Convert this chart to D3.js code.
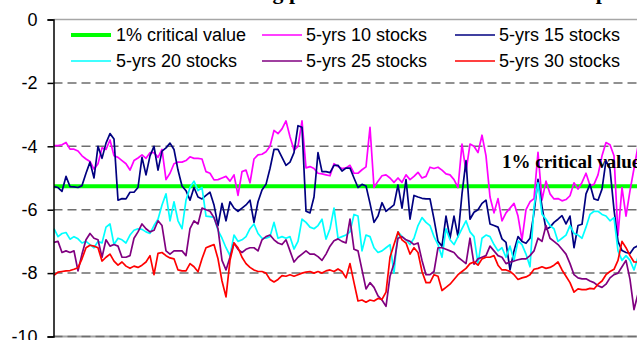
<!DOCTYPE html>
<html>
<head>
<meta charset="utf-8">
<script src="https://cdn.jsdelivr.net/npm/d3@7"></script>
<style>
  body { margin: 0; background: #fff; }
  svg { display: block; }
</style>
</head>
<body>
<svg id="chart" width="637" height="340"></svg>
<script>
// Rolling test statistics for 5-year samples, by number of stocks in the portfolio
const tickValues = [0, -2, -4, -6, -8, -10];
const criticalValue = -5.26;

const seriesNames = ["5-yrs 10 stocks", "5-yrs 15 stocks", "5-yrs 20 stocks", "5-yrs 25 stocks", "5-yrs 30 stocks"];
const seriesColors = ["#ff00ff", "#000080", "#00ffff", "#800080", "#ff0000"];

const tenStocks = [
  -3.98,-3.98,-3.95,-3.88,-4.09,-4.09,-4.15,-4.3,-4.4,-4.48,-4.72,-4.55,-4.05,-4.1,-3.8,-4.3,-4.35,-4.45,-4.55,-4.75,
  -4.45,-4.37,-4.27,-4.38,-4.2,-4.2,-4.35,-4.1,-5.05,-4.85,-4.55,-4.5,-4.5,-4.45,-4.33,-4.38,-4.38,
  -4.4,-4.8,-4.85,-5.06,-5.05,-5.0,-4.95,-5.1,-4.9,-5.55,-4.8,-4.75,-5.15,-4.4,-4.27,-4.25,-4.17,-4.0,-3.5,-3.6,
  -3.45,-3.2,-3.7,-4.12,-4.0,-3.2,-4.68,-4.64,-4.7,-4.85,-4.87,-4.9,-4.93,-4.55,-4.64,-4.7,-4.68,-4.6,-4.85,-4.85,
  -4.74,-4.65,-3.4,
  -5.3,-5.1,-4.93,-4.9,-5.0,-5.14,-5.0,-5.14,-4.9,-5.05,-4.95,-4.82,-5.0,-4.95,-4.66,-4.7,-4.66,-4.75,-4.87,-4.9,
  -5.05,-5.3,-3.93,-4.8,-3.93,-4.0,-4.2,-3.65,-4.3,-5.6,-6.1,-5.65,-6.35,-6.1,-5.95,-5.8,-6.2,-6.95,-6.0,-5.75,
  -5.65,-4.19,-5.7,-5.1,-5.5,-5.66,-5.65,-5.72,-5.68,-5.56,-5.15,-5.35,-5.14,-4.85,-5.24,-5.2,-4.9,-4.3,-3.88,-3.95,
  -4.3,-6.8,-5.3,-6.2,-5.4,-4.7,-4.0
];

const fifteenStocks = [
  -5.27,-5.3,-5.42,-4.95,-5.27,-5.28,-5.3,-5.24,-4.85,-4.5,-5.0,-4.0,-4.38,-3.9,-3.6,-3.77,-5.7,-5.65,-5.66,-5.45,
  -5.45,-5.3,-4.35,-4.9,-4.3,-4.0,-4.75,-4.15,-4.05,-3.9,-4.1,-4.75,-5.25,-5.4,-5.7,-5.3,-5.6,
  -5.66,-5.55,-5.45,-5.85,-6.5,-5.8,-6.35,-5.75,-5.95,-6.05,-5.95,-5.85,-5.7,-6.4,-5.75,-5.38,-5.2,-4.7,-4.1,-4.1,
  -4.35,-4.6,-4.5,-4.2,-3.35,-3.4,-6.05,-6.1,-5.6,-4.2,-4.8,-4.8,-4.83,-4.6,-4.6,-4.78,-4.69,-4.69,-5.0,-5.3,
  -5.2,-5.25,-5.8,
  -6.4,-6.2,-5.78,-6.05,-5.95,-5.85,-5.22,-5.95,-5.05,-6.3,-5.55,-5.6,-5.64,-5.66,-5.66,-6.3,-7.0,-7.15,-6.2,-6.9,
  -6.2,-6.85,-5.5,-4.45,-6.3,-6.08,-6.0,-5.8,-5.7,-6.45,-6.5,-6.55,-6.92,-7.03,-7.9,-7.3,-6.85,-7.0,-7.06,-6.9,
  -6.1,-5.04,-5.9,-6.62,-6.55,-6.4,-6.3,-6.19,-6.45,-6.2,-7.2,-6.5,-6.46,-5.5,-5.2,-5.66,-5.7,-5.35,-4.45,-4.72,
  -6.0,-7.0,-7.29,-7.35,-7.38,-7.2,-7.14
];

const twentyStocks = [
  -6.6,-6.85,-6.75,-6.72,-6.93,-6.85,-6.92,-7.05,-7.0,-7.1,-7.2,-7.0,-7.05,-6.55,-6.45,-7.1,-6.9,-6.95,-7.05,-6.8,
  -6.65,-6.6,-6.62,-6.7,-6.75,-6.5,-6.3,-5.85,-5.5,-6.35,-5.75,-6.35,-6.6,-5.7,-5.3,-5.1,-5.4,
  -5.3,-6.2,-6.22,-6.24,-6.65,-6.9,-7.2,-7.45,-6.8,-7.0,-6.95,-6.85,-6.6,-6.45,-6.75,-6.9,-6.9,-6.85,-6.4,-6.9,
  -6.85,-6.9,-6.85,-7.24,-7.0,-6.3,-6.4,-6.55,-6.6,-6.5,-6.3,-6.93,-6.6,-5.95,-6.9,-6.85,-6.8,-6.7,-6.15,-6.2,
  -7.3,-6.8,-6.85,
  -7.2,-7.35,-7.3,-7.2,-7.1,-8.0,-6.7,-6.85,-6.95,-7.1,-6.9,-6.5,-6.25,-6.4,-6.5,-6.85,-7.1,-7.5,-6.6,-6.95,
  -7.1,-6.85,-6.6,-6.35,-6.7,-6.85,-7.7,-6.9,-6.8,-6.85,-7.1,-7.3,-7.2,-7.5,-7.15,-7.6,-6.98,-7.1,-7.4,-7.8,
  -5.9,-5.15,-6.14,-6.3,-6.5,-6.6,-7.0,-6.9,-6.8,-6.5,-6.75,-6.8,-6.9,-6.55,-6.15,-6.05,-6.05,-6.15,-6.2,-6.35,
  -6.25,-7.3,-7.6,-7.45,-7.6,-7.9,-7.5
];

const twentyFiveStocks = [
  -7.03,-7.0,-7.35,-7.3,-7.35,-7.3,-7.93,-7.4,-6.95,-6.75,-6.9,-6.95,-7.5,-6.95,-7.15,-7.1,-7.15,-7.5,-7.5,-7.45,
  -6.9,-6.7,-6.45,-6.6,-6.7,-6.65,-6.35,-6.5,-7.3,-7.4,-7.3,-7.3,-7.3,-7.45,-6.6,-6.35,-6.45,
  -5.95,-6.0,-6.05,-6.25,-6.6,-7.6,-7.9,-7.5,-7.05,-7.25,-7.35,-7.25,-7.2,-7.2,-7.3,-6.95,-6.85,-6.8,-6.95,-7.05,
  -7.1,-6.95,-7.3,-7.65,-7.5,-7.4,-7.3,-7.4,-7.4,-7.48,-7.6,-7.4,-7.15,-6.98,-6.92,-7.0,-7.05,-6.3,-7.25,-7.3,
  -7.9,-8.5,-8.3,
  -8.45,-8.72,-8.85,-9.05,-8.1,-7.7,-6.9,-6.85,-6.95,-7.0,-7.1,-7.05,-7.6,-8.05,-8.05,-7.95,-7.2,-7.2,-7.25,-7.3,
  -7.35,-7.5,-7.6,-7.7,-6.9,-7.72,-7.55,-7.5,-7.45,-7.15,-7.3,-7.45,-7.5,-7.7,-7.65,-7.62,-7.58,-7.55,-7.55,-7.45,
  -7.3,-6.9,-7.0,-6.5,-6.9,-7.0,-7.1,-7.25,-7.4,-7.7,-8.05,-8.15,-8.18,-8.18,-8.25,-8.3,-8.4,-8.45,-8.35,-8.15,
  -8.05,-8.0,-7.8,-7.6,-8.2,-9.15,-8.65
];

const thirtyStocks = [
  -8.07,-7.97,-7.95,-7.93,-7.92,-7.88,-7.83,-7.55,-7.2,-7.12,-7.15,-7.2,-7.62,-7.5,-7.4,-7.62,-7.75,-7.65,-7.78,-7.85,
  -7.78,-7.82,-7.75,-7.65,-7.45,-8.05,-7.38,-7.35,-7.45,-7.52,-7.55,-7.9,-7.93,-7.93,-7.7,-7.8,-7.96,
  -7.55,-7.2,-7.15,-7.1,-7.55,-8.25,-8.75,-7.6,-7.05,-7.2,-7.5,-7.7,-7.82,-7.9,-7.95,-7.95,-8.0,-8.2,-8.28,-8.2,
  -8.08,-8.1,-8.05,-8.1,-8.05,-8.0,-7.97,-7.95,-8.0,-7.95,-8.0,-7.93,-7.9,-7.95,-7.87,-7.95,-8.15,-7.7,-8.3,-8.88,
  -8.85,-8.92,-8.85,
  -8.88,-8.8,-8.83,-8.6,-7.5,-7.1,-6.7,-6.95,-7.05,-7.4,-7.2,-7.35,-7.95,-8.3,-8.3,-8.05,-8.1,-8.55,-8.45,-8.35,
  -8.2,-8.05,-7.95,-7.85,-7.7,-7.65,-7.75,-7.55,-7.5,-7.5,-7.45,-7.75,-7.9,-7.9,-7.95,-8.05,-8.2,-8.15,-8.12,-8.05,
  -7.88,-7.85,-7.8,-7.85,-7.82,-7.75,-7.65,-7.9,-8.1,-8.3,-8.6,-8.5,-8.52,-8.52,-8.48,-8.5,-8.35,-8.25,-8.05,-7.95,
  -7.88,-7.6,-7.0,-7.2,-7.45,-7.65,-7.65
];

const seriesValues = [tenStocks, fifteenStocks, twentyStocks, twentyFiveStocks, thirtyStocks];

const svg = d3.select("#chart");
const W = 637, H = 340;
const plot = { left: 53.5, top: 19.5, bottom: 336.5 };
const sansFont = "'Liberation Sans', Arial, sans-serif";
const serifFont = "'Liberation Serif', 'Times New Roman', serif";

const n = tenStocks.length;
const x = d3.scaleLinear().domain([0, n - 1]).range([54, 54 + 4 * (n - 1)]);
const y = d3.scaleLinear().domain([-10, 0]).range([plot.bottom, plot.top]);

// Title: sits above the top edge, only its descenders reach into view
const titleText = "Test statistics of trading pairs across the whole of the sample";
const title = svg.append("text")
  .attr("x", 0).attr("y", 0)
  .attr("font-family", serifFont).attr("font-weight", "bold")
  .attr("font-size", 22).attr("fill", "#000")
  .text(titleText);
{
  const node = title.node();
  const iA = titleText.indexOf("pairs");
  const iB = titleText.lastIndexOf("p");
  const span = node.getStartPositionOfChar(iB).x - node.getStartPositionOfChar(iA).x;
  title.attr("font-size", 22 * 307 / span);
  const pA = node.getStartPositionOfChar(iA).x;
  title.attr("x", 289 - pA).attr("y", -1);
}

// Plot frame: grey top and bottom edges
svg.append("line")
  .attr("x1", plot.left).attr("x2", W).attr("y1", plot.top).attr("y2", plot.top)
  .attr("stroke", "#a6a6a6").attr("stroke-width", 1.5);
svg.append("line")
  .attr("x1", plot.left).attr("x2", W).attr("y1", plot.bottom).attr("y2", plot.bottom)
  .attr("stroke", "#a6a6a6").attr("stroke-width", 2);

// Dashed gridlines
svg.append("g")
  .selectAll("line")
  .data(tickValues.filter(v => v !== 0))
  .join("line")
  .attr("x1", plot.left).attr("x2", W)
  .attr("y1", d => y(d)).attr("y2", d => y(d))
  .attr("stroke", "#6e6e6e").attr("stroke-width", 1.5)
  .attr("stroke-dasharray", "9,5");

// 1% critical value
svg.append("line")
  .attr("x1", x(0)).attr("x2", x(n - 1))
  .attr("y1", y(criticalValue)).attr("y2", y(criticalValue))
  .attr("stroke", "#00ff00").attr("stroke-width", 4);

// Series lines
const line = d3.line().x((d, i) => x(i)).y(d => y(d));
svg.append("g")
  .selectAll("path")
  .data(seriesValues)
  .join("path")
  .attr("d", d => line(d))
  .attr("fill", "none")
  .attr("stroke", (d, i) => seriesColors[i])
  .attr("stroke-width", 1.7)
  .attr("stroke-linejoin", "round");

// Y axis
const yAxis = d3.axisLeft(y)
  .tickValues(tickValues)
  .tickSize(6)
  .tickPadding(10)
  .tickFormat(d => String(d));
const gy = svg.append("g")
  .attr("transform", `translate(${plot.left},0)`)
  .call(yAxis);
gy.select(".domain").attr("stroke", "#000").attr("stroke-width", 1.5);
gy.selectAll(".tick line").attr("stroke", "#000").attr("stroke-width", 1.5);
gy.selectAll(".tick text")
  .attr("font-family", sansFont).attr("font-size", 18).attr("fill", "#000");

// Legend
const legendItems = [
  { name: "1% critical value", color: "#00ff00", width: 4 },
  ...seriesNames.map((s, i) => ({ name: s, color: seriesColors[i], width: 1.7 }))
];
const colX = [71, 262, 455];
const rowY = [35, 61];
const legend = svg.append("g")
  .selectAll("g")
  .data(legendItems)
  .join("g")
  .attr("transform", (d, i) => `translate(${colX[i % 3]},${rowY[Math.floor(i / 3)]})`);
legend.append("line")
  .attr("x1", 0).attr("x2", 40).attr("y1", 0).attr("y2", 0)
  .attr("stroke", d => d.color).attr("stroke-width", d => d.width);
legend.append("text")
  .attr("x", (d, i) => i % 3 === 0 ? 45 : 44)
  .attr("y", 6)
  .attr("font-family", sansFont).attr("font-size", 18).attr("fill", "#000")
  .text(d => d.name);

// Annotation for the critical line
svg.append("text")
  .attr("x", 502).attr("y", 168)
  .attr("font-family", serifFont).attr("font-weight", "bold")
  .attr("font-size", 19).attr("fill", "#000")
  .text("1% critical value");
</script>
</body>
</html>
